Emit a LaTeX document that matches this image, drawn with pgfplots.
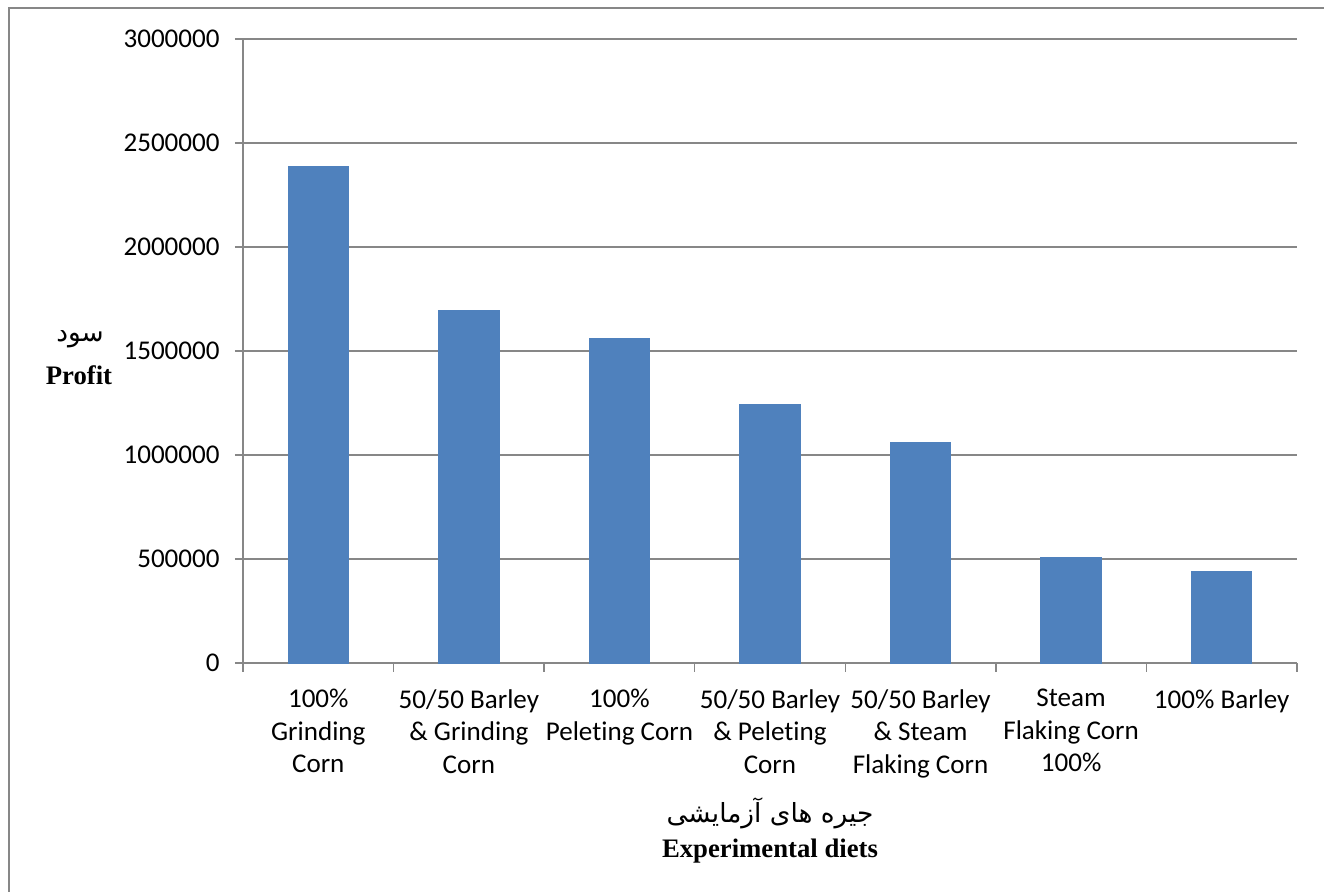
\documentclass[border=0pt]{standalone}
\usepackage{fontspec}
\setmainfont{Carlito}[Ligatures=NoCommon]
\newfontfamily\timesfont{Liberation Serif}
\newfontfamily\arabicfont[Script=Arabic]{DejaVu Sans}
\TeXXeTstate=1
\usepackage{pgfplots}
\pgfplotsset{compat=1.18}
\definecolor{barblue}{HTML}{4F81BD}
\definecolor{gridgray}{HTML}{878787}
\begin{document}
\begin{tikzpicture}[x=1mm,y=1mm]
\useasboundingbox (0,0) rectangle (132.4,89.2);
\draw[gridgray, line width=0.2mm] (0.85,0) -- (0.85,88.35) -- (132.4,88.35);
\begin{axis}[
  at={(24.3mm,22.9mm)}, anchor=south west,
  scale only axis, width=105.4mm, height=62.4mm,
  xmin=-0.5, xmax=6.5, ymin=0, ymax=3000000,
  axis x line*=bottom, axis y line*=left,
  axis line style={gridgray, line width=0.15mm},
  ytick={0,500000,1000000,1500000,2000000,2500000,3000000},
  scaled y ticks=false,
  yticklabel style={/pgf/number format/fixed, /pgf/number format/1000 sep={}},
  /pgf/number format/assume math mode=true,
  xtick={0,...,6},
  xticklabels={{100\%\\Grinding\\Corn},{50/50 Barley\\\& Grinding\\Corn},{100\%\\Peleting Corn},{50/50 Barley\\\& Peleting\\Corn},{50/50 Barley\\\& Steam\\Flaking Corn},{Steam\\Flaking Corn\\100\%},{100\% Barley}},
  xticklabel style={align=center, anchor=north, font=\fontsize{7.7}{9.25}\selectfont, yshift=-0.6mm},
  yticklabel style={font=\fontsize{7.7}{9.25}\selectfont, xshift=-0.3mm},
  major x tick style={draw=none},
  minor xtick={-0.5,0.5,1.5,2.5,3.5,4.5,5.5,6.5},
  minor x tick style={gridgray, line width=0.15mm},
  y tick style={gridgray, line width=0.15mm},
  tick align=outside,
  major tick length=0.8mm, minor tick length=0.9mm,
  ymajorgrids, major grid style={gridgray, line width=0.15mm},
  ybar, bar width=6mm,
  clip=false,
]
\addplot[fill=barblue, draw=barblue] coordinates {
(0,2386000) (1,1696000) (2,1561000) (3,1240000) (4,1061000) (5,507000) (6,441000)};
\end{axis}
\node[anchor=base] at (8.0,55.0) {\fontsize{7.5}{9}\selectfont\arabicfont\beginR سود\endR};
\node[anchor=base] at (7.9,50.7) {\fontsize{7.6}{9}\selectfont\timesfont\bfseries Profit};
\node[anchor=base] at (77.0,6.9) {\fontsize{7.5}{9}\selectfont\arabicfont\beginR جیره های آزمایشی\endR};
\node[anchor=base] at (77.0,3.4) {\fontsize{7.6}{9}\selectfont\timesfont\bfseries Experimental diets};
\end{tikzpicture}
\end{document}
